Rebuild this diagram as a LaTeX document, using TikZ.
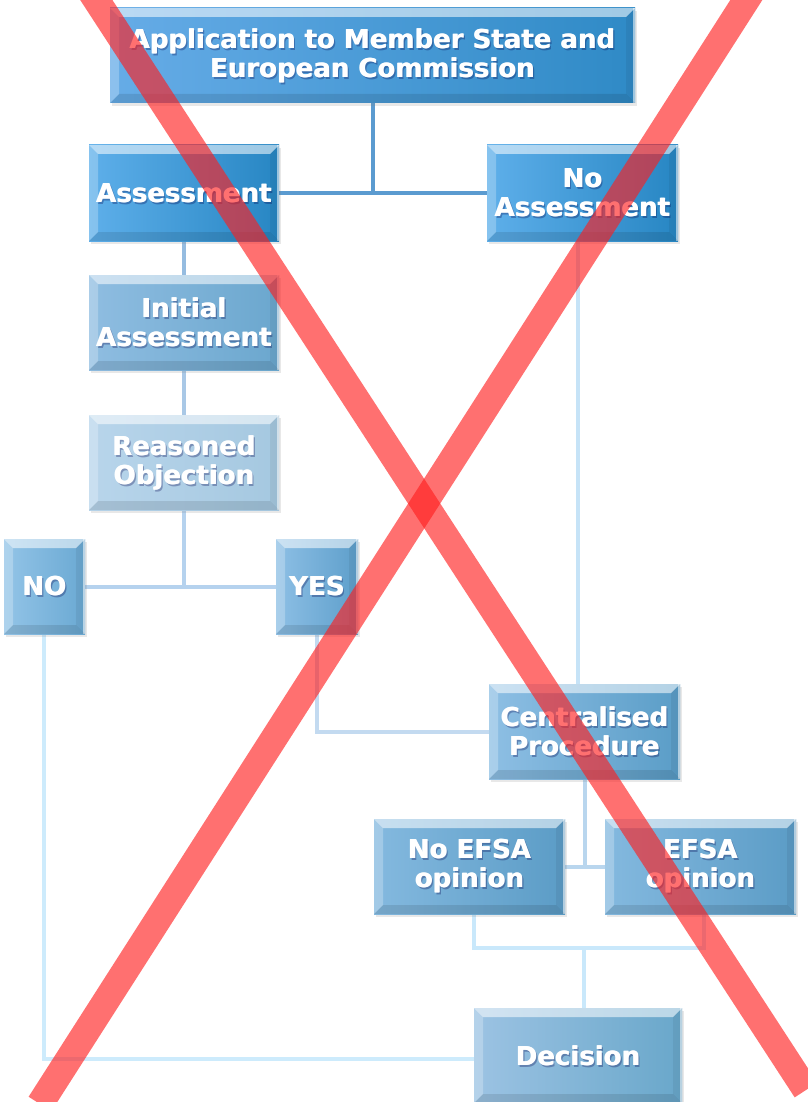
\documentclass[tikz,border=0pt]{standalone}
\usepackage{fontspec}
\setmainfont{DejaVu Sans}
\usetikzlibrary{shadows}
\pgfdeclarelayer{background}
\pgfdeclarelayer{foreground}
\pgfsetlayers{background,main,foreground}

% panel colours (left / right of the horizontal gradient)
\definecolor{appL}{HTML}{66ACE7}\definecolor{appR}{HTML}{2F8AC6}
\definecolor{assL}{HTML}{5EAFEA}\definecolor{assR}{HTML}{2786C3}
\definecolor{iniL}{HTML}{8FBDE1}\definecolor{iniR}{HTML}{6BA7CE}
\definecolor{reaL}{HTML}{B8D5EB}\definecolor{reaR}{HTML}{A5C8E0}
\definecolor{nopL}{HTML}{93C4E7}\definecolor{nopR}{HTML}{6AA9D3}
\definecolor{yesL}{HTML}{8DBFE5}\definecolor{yesR}{HTML}{5E9FCB}
\definecolor{cenL}{HTML}{8EBFE4}\definecolor{cenR}{HTML}{5A9DC7}
\definecolor{efsL}{HTML}{84B9DF}\definecolor{efsR}{HTML}{5B9CC6}
\definecolor{decL}{HTML}{9CC3E3}\definecolor{decR}{HTML}{69A7CA}
% connector colours
\definecolor{lnTop}{HTML}{5B9BD0}
\definecolor{lnA}{HTML}{95BCE0}
\definecolor{lnB}{HTML}{A9C8E6}
\definecolor{lnC}{HTML}{B5D2EE}
\definecolor{lnD}{HTML}{C6E3F7}
\definecolor{lnE}{HTML}{C3DAF0}
\definecolor{lnF}{HTML}{B9D6EE}
\definecolor{lnG}{HTML}{C9E8FB}
\definecolor{lnH}{HTML}{CDEBFC}
\definecolor{crossred}{RGB}{255,30,30}

\newcommand\bv{9pt}
\newcommand\pp{path picture bounding box}

\tikzset{
  x=1pt, y=-1pt,
  panel/.style={rectangle, inner sep=0pt,
    drop shadow={shadow xshift=2pt, shadow yshift=-3pt, opacity=.18},
    path picture={
      % top bevel
      \fill[white,opacity=.55] (\pp.north west) -- (\pp.north east)
        -- ([xshift=-\bv,yshift=-\bv]\pp.north east)
        -- ([xshift=\bv,yshift=-\bv]\pp.north west) -- cycle;
      % left bevel
      \fill[white,opacity=.25] (\pp.north west) -- ([xshift=\bv,yshift=-\bv]\pp.north west)
        -- ([xshift=\bv,yshift=\bv]\pp.south west) -- (\pp.south west) -- cycle;
      % right bevel
      \fill[black,opacity=.06] (\pp.north east) -- ([xshift=-\bv,yshift=-\bv]\pp.north east)
        -- ([xshift=-\bv,yshift=\bv]\pp.south east) -- (\pp.south east) -- cycle;
      \fill[white,opacity=.55] ([xshift=-2.5pt]\pp.north east) rectangle (\pp.south east);
      % bottom bevel
      \fill[black,opacity=.1] (\pp.south west) -- ([xshift=\bv,yshift=\bv]\pp.south west)
        -- ([xshift=-\bv,yshift=\bv]\pp.south east) -- (\pp.south east) -- cycle;
    }},
  caption/.style={text=white, font=\bfseries\fontsize{26}{29}\selectfont, align=center, inner sep=0pt},
  capshade/.style={caption, text=black!70!blue, opacity=.3},
  link/.style={line width=4pt},
  crossbar/.style={line width=27pt, crossred, opacity=.63},
}

% name, centre x, centre y, width, height, left colour, right colour, text
% (the caption is set twice, a hair apart, for a heavier stroke)
\newcommand\panelnode[8]{%
  \node[panel, minimum width=#4pt, minimum height=#5pt, left color=#6, right color=#7] (#1) at (#2,#3) {};
  \node[capshade] (#1-s) at ([xshift=1.5pt,yshift=-2pt]#1.center) {#8};
  \node[caption] (#1-t) at ([xshift=-0.35pt]#1.center) {#8};
  \node[caption] (#1-u) at ([xshift=0.35pt]#1.center) {#8};
}

\begin{document}
\begin{tikzpicture}
\useasboundingbox (0,0) rectangle (807,1102);

\panelnode{app}{372.5}{55.5}{525}{95}{appL}{appR}{Application to Member State and\\European Commission}
\panelnode{ass}{184}{193}{190}{96}{assL}{assR}{Assessment}
\panelnode{noass}{582.5}{193}{191}{96}{assL}{assR}{No\\Assessment}
\panelnode{ini}{184}{322.5}{190}{95}{iniL}{iniR}{Initial\\Assessment}
\panelnode{rea}{184}{462.5}{190}{95}{reaL}{reaR}{Reasoned\\Objection}
\panelnode{nop}{44.5}{586.5}{81}{95}{nopL}{nopR}{NO}
\panelnode{yes}{317}{586.5}{82}{95}{yesL}{yesR}{YES}
\panelnode{cen}{584.5}{731.5}{191}{95}{cenL}{cenR}{Centralised\\Procedure}
\panelnode{noefsa}{469.5}{866.5}{191}{95}{efsL}{efsR}{No EFSA\\opinion}
\panelnode{efsa}{700.5}{866.5}{191}{95}{efsL}{efsR}{EFSA\\opinion}
\panelnode{dec}{578}{1055.5}{208}{95}{decL}{decR}{Decision}

\begin{pgfonlayer}{background}
  \fill[white] (0,0) rectangle (807,1102);
  % application splits into the two assessment routes
  \draw[link,lnTop] (app.south) -- (app.south |- ass.east);
  \draw[link,lnTop] (ass.east) -- (noass.west);
  % national assessment chain
  \draw[link,lnA] (ass.south) -- (ini.north);
  \draw[link,lnB] (ini.south) -- (rea.north);
  \draw[link,lnC] (rea.south) -- (rea.south |- nop.east);
  \draw[link,lnC] (nop.east) -- (yes.west);
  % routes into the centralised procedure
  \draw[link,lnD] ([xshift=-4.5pt]noass.south) -- ([xshift=-4.5pt]noass.south |- cen.north);
  \draw[link,lnE] (yes.south) |- (cen.west);
  % centralised procedure branches
  \draw[link,lnF] (cen.south) -- (cen.south |- noefsa.east);
  \draw[link,lnF] (noefsa.east) -- (efsa.west);
  \coordinate (merge) at (584,948);
  \draw[link,lnG] ([xshift=4.5pt]noefsa.south) |- (merge) -| ([xshift=3.5pt]efsa.south);
  \draw[link,lnG] (merge) -- (merge |- dec.north);
  % no objection goes straight to the decision
  \draw[link,lnH] ([xshift=-0.5pt]nop.south) |- ([yshift=-3.5pt]dec.west);
\end{pgfonlayer}

\begin{pgfonlayer}{foreground}
  \draw[crossbar] (88.5,-12) -- (806,1090);
  \draw[crossbar] (754,-12) -- (40,1104);
\end{pgfonlayer}
\end{tikzpicture}
\end{document}
